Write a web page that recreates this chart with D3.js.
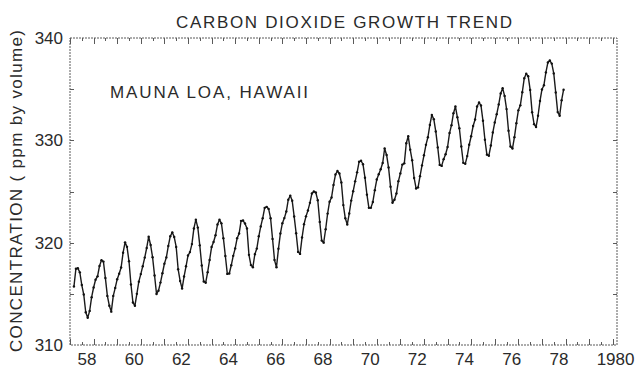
<!DOCTYPE html>
<html><head><meta charset="utf-8">
<script src="https://cdn.jsdelivr.net/npm/d3@7"></script>
<style>
body{margin:0;background:#fff}
svg{display:block}
text{font-family:"Liberation Sans",Arial,sans-serif;fill:#2a2a2a}
</style>
</head><body><svg id="c" width="636" height="368"></svg>
<script>
// ---------- data ----------
const chartTitle = "CARBON DIOXIDE GROWTH TREND";
const stationLabel = "MAUNA LOA, HAWAII";
const yAxisTitle = "CONCENTRATION ( ppm by volume)";
const firstYear = 1958;
const firstMonth = 3; // March 1958
// monthly CO2 (ppm), one row per year
const co2ByYear = [
  [315.71,317.45,317.50,317.10,315.86,314.93,313.20,312.66,313.33,314.67],
  [315.62,316.38,316.71,317.72,318.29,318.15,316.54,314.80,313.84,313.26,314.80,315.58],
  [316.43,316.97,317.58,319.02,320.03,319.59,318.18,315.91,314.16,313.83,315.00,316.19],
  [316.93,317.70,318.54,319.48,320.58,319.77,318.57,316.79,314.99,315.31,316.10,317.01],
  [317.94,318.56,319.68,320.63,321.01,320.55,319.58,317.40,316.26,315.52,316.69,317.69],
  [318.74,319.08,319.86,321.39,322.25,321.47,319.74,317.77,316.21,316.09,317.12,318.31],
  [319.57,320.07,320.73,321.77,322.25,321.89,320.44,318.70,316.95,316.99,317.79,318.71],
  [319.44,320.44,320.89,322.13,322.16,321.87,321.39,318.81,317.81,317.60,318.87,319.42],
  [320.62,321.59,322.39,323.40,323.50,323.30,322.39,320.37,318.30,317.60,319.40,320.90],
  [321.90,322.40,323.04,324.20,324.60,324.09,322.55,320.92,319.10,318.90,320.50,321.80],
  [322.57,323.15,323.89,324.80,325.00,324.90,324.14,322.03,320.20,320.00,321.31,322.84],
  [324.00,324.42,325.64,326.66,327.00,326.76,325.88,323.67,322.38,321.78,322.85,324.11],
  [325.03,325.99,326.87,327.90,328.00,327.66,326.35,324.69,323.40,323.40,323.98,325.13],
  [326.17,326.68,327.18,327.78,329.20,328.57,327.34,325.46,323.90,324.20,324.80,326.01],
  [326.77,327.63,327.75,329.72,330.40,329.09,328.05,326.32,325.30,325.40,326.50,327.55],
  [328.54,329.56,330.30,331.50,332.48,332.07,330.87,329.31,327.60,327.50,328.16,328.64],
  [329.35,330.71,331.48,332.65,333.30,332.25,331.18,329.40,327.80,327.70,328.46,329.57],
  [330.40,331.40,332.04,333.31,333.70,333.40,331.91,330.06,328.60,328.50,329.49,330.76],
  [331.75,332.56,333.50,334.58,335.10,334.34,333.05,330.94,329.40,329.20,330.31,331.68],
  [332.93,333.42,334.70,336.07,336.50,336.27,334.93,332.75,331.58,331.30,332.40,333.85],
  [334.97,335.39,336.64,337.60,337.80,337.50,336.54,334.68,332.76,332.40,333.92,334.95]
];
const yTickValues = [310, 320, 330, 340];
const xLabelYears = [1958,1960,1962,1964,1966,1968,1970,1972,1974,1976,1978,1980];
const xLabelTexts = ["58","60","62","64","66","68","70","72","74","76","78","1980"];
const xDomain = [1958.0, 1981.18];
const yDomain = [310, 340];

// ---------- layout ----------
const L = 70, R = 617, T = 38, B = 345;
const svg = d3.select("#c");
const x = d3.scaleLinear().domain(xDomain).range([L, R]);
const y = d3.scaleLinear().domain(yDomain).range([B, T]);

// flatten monthly values to (time, value)
const points = [];
co2ByYear.forEach((row, yi) => {
  const startM = yi === 0 ? firstMonth : 1;
  row.forEach((v, mi) => {
    const m = startM + mi;
    points.push({t: firstYear + yi + (m - 1) / 12, v});
  });
});

// frame
const frameColor = "#5a5a5a";
svg.append("rect").attr("x", L).attr("y", T).attr("width", R - L).attr("height", B - T)
  .attr("fill", "none").attr("stroke", frameColor).attr("stroke-width", 1)
  .attr("stroke-dasharray", "2,1");

// x ticks (years, half years) bottom and top
const yearTicks = d3.range(1958, 1982).filter(v => v <= xDomain[1]);
const halfTicks = yearTicks.map(v => v + 0.5).filter(v => v < xDomain[1]);
const tg = svg.append("g").attr("stroke", frameColor).attr("stroke-width", 1);
yearTicks.forEach(v => {
  const px = Math.round(x(v)) + 0.5;
  tg.append("line").attr("x1", px).attr("x2", px).attr("y1", B).attr("y2", B - 6);
  tg.append("line").attr("x1", px).attr("x2", px).attr("y1", T).attr("y2", T + 6);
});
halfTicks.forEach(v => {
  const px = Math.round(x(v)) + 0.5;
  tg.append("line").attr("x1", px).attr("x2", px).attr("y1", B).attr("y2", B - 3);
  tg.append("line").attr("x1", px).attr("x2", px).attr("y1", T).attr("y2", T + 3);
});
// y ticks every 5 ppm left and right
d3.range(315, 340, 5).forEach(v => {
  const py = Math.round(y(v)) + 0.5;
  tg.append("line").attr("x1", L).attr("x2", L + 4).attr("y1", py).attr("y2", py);
  tg.append("line").attr("x1", R).attr("x2", R - 4).attr("y1", py).attr("y2", py);
});

// x labels (start-anchored just right of the year tick)
svg.append("g").selectAll("text").data(xLabelYears).join("text")
  .attr("x", d => x(d)).attr("dx", 7.5).attr("y", 365)
  .attr("text-anchor", "start").attr("font-size", 17)
  .text((d, i) => xLabelTexts[i]);

// y labels
svg.append("g").selectAll("text").data(yTickValues).join("text")
  .attr("x", 63).attr("y", d => y(d)).attr("dy", "0.36em")
  .attr("text-anchor", "end").attr("font-size", 17)
  .text(d => d);

// titles
svg.append("text").attr("x", 176).attr("y", 28).attr("font-size", 17)
  .attr("textLength", 336).attr("lengthAdjust", "spacing").text(chartTitle);
svg.append("text").attr("x", 110).attr("y", 98).attr("font-size", 17)
  .attr("textLength", 198).attr("lengthAdjust", "spacing").text(stationLabel);
svg.append("text").attr("transform", "translate(22,191) rotate(-90)")
  .attr("text-anchor", "middle").attr("font-size", 17)
  .attr("textLength", 322).attr("lengthAdjust", "spacing").text(yAxisTitle);

// curve
const line = d3.line().x(d => x(d.t)).y(d => y(d.v)).curve(d3.curveLinear);
svg.append("path").datum(points).attr("d", line)
  .attr("fill", "none").attr("stroke", "#1a1a1a").attr("stroke-width", 1.4)
  .attr("stroke-linejoin", "round");
svg.append("g").selectAll("circle").data(points).join("circle")
  .attr("cx", d => x(d.t)).attr("cy", d => y(d.v)).attr("r", 1.2)
  .attr("fill", "#111");
</script>
</body></html>
